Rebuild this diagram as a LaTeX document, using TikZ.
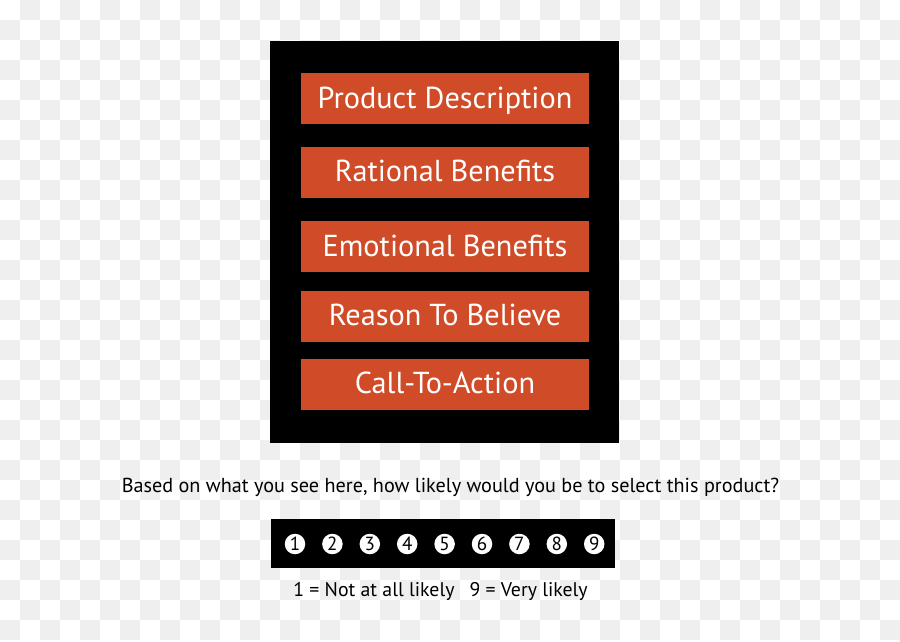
\documentclass[tikz,border=0pt]{standalone}
\usepackage{fontspec}
\setmainfont{PT Sans}
\definecolor{chk}{HTML}{EFEFEF}
\definecolor{orng}{HTML}{D04B28}
\begin{document}
\begin{tikzpicture}[x=1pt,y=-1pt,
  obox/.style={fill=orng,draw=none,minimum width=288pt,minimum height=51pt,inner sep=0pt,
    text=white,font=\fontsize{30.3}{30}\selectfont,text height=19pt,text depth=0pt,anchor=center},
  numc/.style={circle,fill=white,draw=none,minimum size=20.5pt,inner sep=0pt,
    font=\fontsize{19}{19}\selectfont,text height=12.5pt,text depth=0pt},
  plain/.style={inner sep=0pt,font=\fontsize{20.2}{20}\selectfont,anchor=base}]
\useasboundingbox (0,0) rectangle (900,642);
\fill[white] (0,0) rectangle (900,642);
\foreach \i in {0,...,44}{
  \foreach \j in {0,...,31}{
    \pgfmathtruncatemacro\s{\i+\j}
    \ifodd\s \fill[chk] (20*\i,20*\j) rectangle ++(20,20); \fi
  }
}
\node[fill=black,minimum width=349pt,minimum height=402pt,inner sep=0pt] (panel) at (444.5,242) {};
\node[obox] (b1) at (445,98.8) {Product Description};
\node[obox] (b2) at (445,172) {Rational Benefits};
\node[obox] (b3) at (445,246.7) {Emotional Benefits};
\node[obox] (b4) at (445,316.3) {Reason To Believe};
\node[obox] (b5) at (445,384.3) {Call-To-Action};
\node[plain] (q) at (450.5,492.7) {Based on what you see here, how likely would you be to select this product?};
\node[fill=black,minimum width=344pt,minimum height=49.5pt,inner sep=0pt] (strip) at (442.7,543.7) {};
\foreach \n in {1,...,9}{
  \node[numc] (c\n) at (295+37.4*\n-37.4,544) {\n};
}
\node[plain,font=\fontsize{19.8}{20}\selectfont] (legend) at (440.5,596.7) {1 = Not at all likely\hspace{15pt}9 = Very likely};
\end{tikzpicture}
\end{document}
